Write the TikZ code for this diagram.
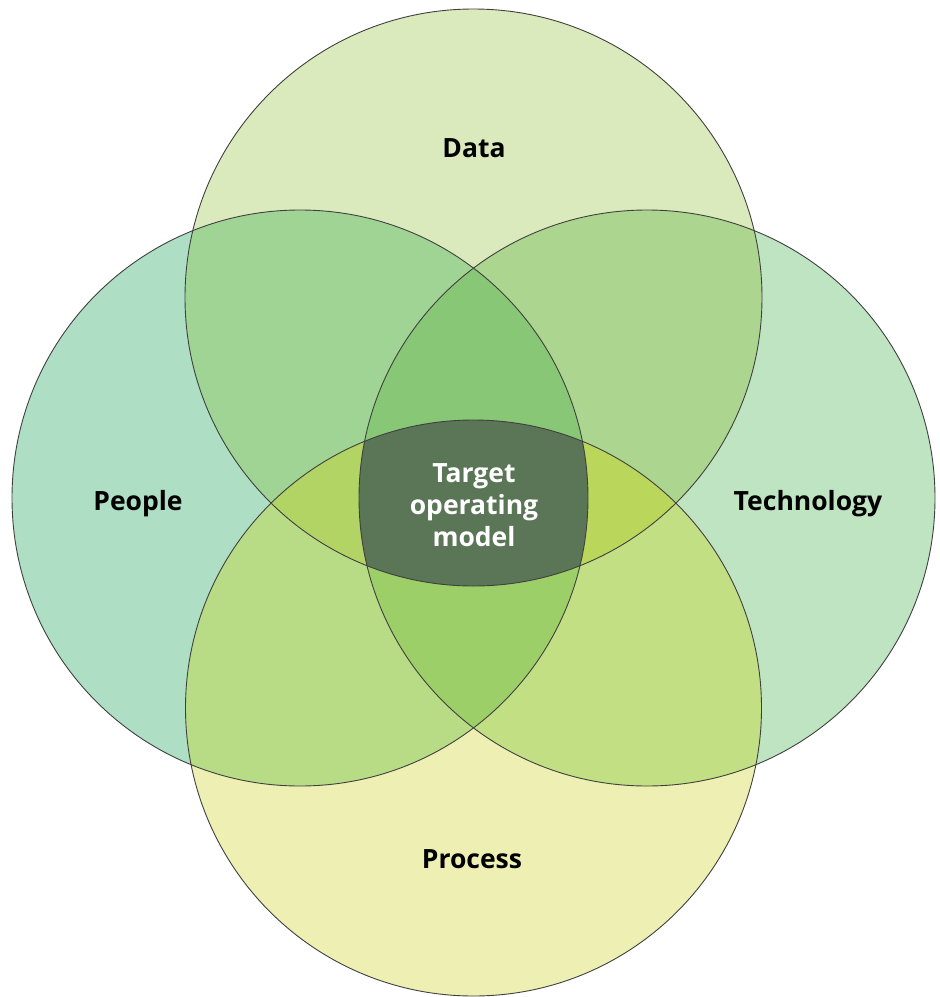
\documentclass[tikz,border=0pt]{standalone}
\usepackage{fontspec}
\setmainfont{Open Sans}
\definecolor{cP}{HTML}{AEDFC4}
\definecolor{cD}{HTML}{DBEABC}
\definecolor{cT}{HTML}{BFE4C2}
\definecolor{cR}{HTML}{EEF0B3}
\definecolor{cDP}{HTML}{A0D494}
\definecolor{cDT}{HTML}{ACD690}
\definecolor{cPR}{HTML}{B8DC86}
\definecolor{cTR}{HTML}{C3DF84}
\definecolor{cDPT}{HTML}{88C776}
\definecolor{cPTR}{HTML}{9DCF68}
\definecolor{cDPR}{HTML}{B2D465}
\definecolor{cDTR}{HTML}{BAD75C}
\definecolor{cAll}{HTML}{5A7656}
\definecolor{cLine}{HTML}{404040}
\newcommand\cirD{(473.5,297.5) circle[radius=288.5pt]}
\newcommand\cirP{(300,498) circle[radius=288pt]}
\newcommand\cirT{(647,498) circle[radius=288pt]}
\newcommand\cirR{(473.5,708) circle[radius=288pt]}
\tikzset{
  lbl/.style={font=\fontsize{26.5}{32}\selectfont\bfseries, text=black, align=center, inner sep=0pt},
  ctr/.style={lbl, text=white},
  outline/.style={draw=cLine, line width=0.9pt}
}
\begin{document}
\begin{tikzpicture}[x=1pt,y=-1pt]
\useasboundingbox (0,0) rectangle (940,997);
% singles
\fill[cP] \cirP;
\fill[cT] \cirT;
\fill[cD] \cirD;
\fill[cR] \cirR;
% pairs
\begin{scope}
  \clip \cirD;
  \fill[cDP] \cirP;
  \fill[cDT] \cirT;
\end{scope}
\begin{scope}
  \clip \cirR;
  \fill[cPR] \cirP;
  \fill[cTR] \cirT;
\end{scope}
% triples
\begin{scope}
  \clip \cirD;
  \clip \cirP;
  \fill[cDPT] \cirT;
  \fill[cDPR] \cirR;
\end{scope}
\begin{scope}
  \clip \cirR;
  \clip \cirT;
  \fill[cPTR] \cirP;
  \fill[cDTR] \cirD;
\end{scope}
% all four
\begin{scope}
  \clip \cirD;
  \clip \cirP;
  \clip \cirT;
  \fill[cAll] \cirR;
\end{scope}
% outlines
\draw[outline] \cirD;
\draw[outline] \cirP;
\draw[outline] \cirT;
\draw[outline] \cirR;
% labels
\node[lbl] (data) at (474,148) {Data};
\node[lbl] (people) at (138,504) {People};
\node[lbl] (tech) at (808,504) {Technology};
\node[lbl] (process) at (472,859) {Process};
\node[ctr] (tom) at (474,505) {Target\\operating\\model};
\end{tikzpicture}
\end{document}
